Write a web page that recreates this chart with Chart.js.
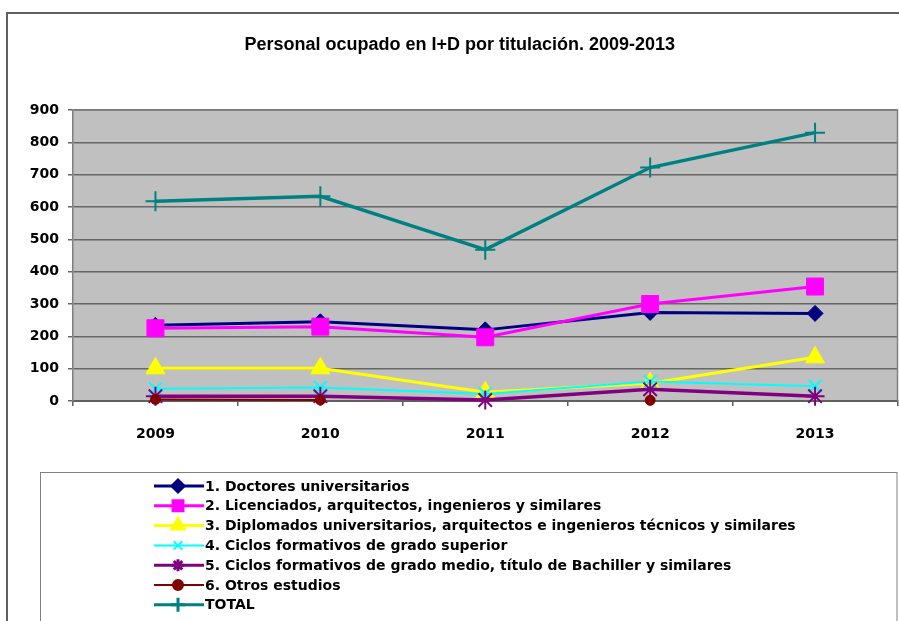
<!DOCTYPE html>
<html>
<head>
<meta charset="utf-8">
<script src="https://cdn.jsdelivr.net/npm/chart.js@4/dist/chart.umd.min.js"></script>
<style>
html,body{margin:0;padding:0;background:#fff;}
#wrap{width:899px;height:621px;position:relative;}
</style>
</head>
<body>
<div id="wrap"><canvas id="c" width="899" height="621"></canvas></div>
<script>
const years = ['2009', '2010', '2011', '2012', '2013'];
const doctores = [234, 245, 220, 274, 271];
const licenciados = [225, 230, 197, 300, 354];
const diplomados = [101, 101, 27, 55, 135];
const ciclosSuperior = [38, 42, 22, 60, 46];
const ciclosMedio = [15, 15, 3, 36, 15];
const otros = [5, 3, null, 2, null];
const total = [618, 633, 468, 722, 830];
const seriesNames = [
  '1. Doctores universitarios',
  '2. Licenciados, arquitectos, ingenieros y similares',
  '3. Diplomados universitarios, arquitectos e ingenieros técnicos y similares',
  '4. Ciclos formativos de grado superior',
  '5. Ciclos formativos de grado medio, título de Bachiller y similares',
  '6. Otros estudios',
  'TOTAL'
];
const titleText = 'Personal ocupado en I+D por titulación. 2009-2013';
const yTicks = [0, 100, 200, 300, 400, 500, 600, 700, 800, 900];

const FONT = "'DejaVu Sans', sans-serif";
const TFONT = "'Liberation Sans', Arial, sans-serif";

const styles = [
  {color:'#000080', lw:3, ps:'rectRot', r:8, bw:1, lr:6},
  {color:'#FF00FF', lw:3, ps:'rect', r:12, bw:1, lr:7},
  {color:'#FFFF00', lw:3, ps:'triangle', r:11, bw:1, lr:7},
  {color:'#00FFFF', lw:2, ps:'crossRot', r:9, bw:2, lr:6},
  {color:'#800080', lw:3.5, ps:'star', r:9.5, bw:2, lr:6},
  {color:'#800000', lw:2, ps:'circle', r:5, bw:1, lr:5},
  {color:'#008080', lw:3.5, ps:'cross', r:10, bw:2, lr:7}
];
const seriesData = [doctores, licenciados, diplomados, ciclosSuperior, ciclosMedio, otros, total];

const datasets = seriesData.map((d, i) => ({
  label: seriesNames[i],
  data: d,
  borderColor: styles[i].color,
  backgroundColor: styles[i].color,
  borderWidth: styles[i].lw,
  pointStyle: styles[i].ps,
  pointRadius: styles[i].r,
  pointHoverRadius: styles[i].r,
  pointBorderWidth: styles[i].bw,
  pointBackgroundColor: styles[i].color,
  pointBorderColor: styles[i].color,
  tension: 0,
  spanGaps: false,
  order: 10 - i,
  clip: false
}));

const framePlugin = {
  id: 'frame',
  beforeDraw(chart) {
    const ctx = chart.ctx;
    const a = chart.chartArea;
    ctx.save();
    ctx.fillStyle = '#fff';
    ctx.fillRect(0, 0, chart.width, chart.height);
    ctx.strokeStyle = '#606060';
    ctx.lineWidth = 2;
    ctx.strokeRect(7, 13, 905, 620);
    ctx.fillStyle = '#C0C0C0';
    ctx.fillRect(a.left, a.top, a.right - a.left, a.bottom - a.top);
    ctx.restore();
  },
  afterDraw(chart) {
    const ctx = chart.ctx;
    const a = chart.chartArea;
    ctx.save();
    ctx.strokeStyle = '#808080';
    ctx.lineWidth = 1.5;
    ctx.beginPath();
    ctx.moveTo(a.left, a.top); ctx.lineTo(a.right, a.top); ctx.lineTo(a.right, a.bottom);
    ctx.stroke();
    ctx.strokeStyle = '#808080';
    ctx.lineWidth = 1;
    ctx.strokeRect(40.5, 472.5, 856.5, 160);
    ctx.font = "bold 14px " + FONT;
    ctx.textBaseline = 'middle';
    ctx.textAlign = 'left';
    for (let i = 0; i < seriesNames.length; i++) {
      const y = 486 + i * 19.8;
      const s = styles[i];
      ctx.strokeStyle = s.color;
      ctx.lineWidth = Math.min(s.lw, 3);
      ctx.beginPath();
      ctx.moveTo(154, y); ctx.lineTo(204, y);
      ctx.stroke();
      ctx.fillStyle = s.color;
      ctx.strokeStyle = s.color;
      Chart.helpers.drawPoint(ctx, {pointStyle: s.ps, radius: s.lr, borderWidth: s.bw, rotation: 0}, 178, y);
      ctx.fillStyle = '#000';
      ctx.fillText(seriesNames[i], 205, y + 1);
    }
    ctx.restore();
  }
};

new Chart(document.getElementById('c'), {
  type: 'line',
  data: { labels: years, datasets },
  options: {
    responsive: false,
    devicePixelRatio: 1,
    animation: false,
    events: [],
    layout: { autoPadding: false, padding: { left: 22, right: 1.5, top: 0, bottom: 0 } },
    plugins: {
      legend: { display: false },
      tooltip: { enabled: false },
      title: {
        display: true,
        text: titleText,
        color: '#000',
        font: { family: TFONT, size: 18, weight: 'bold', lineHeight: 1.2 },
        padding: { top: 34, bottom: 54.4 }
      }
    },
    scales: {
      x: {
        offset: true,
        grid: { display: true, drawOnChartArea: false, drawTicks: true, tickLength: 5, color: '#606060', lineWidth: 1.5, offset: true },
        border: { display: true, color: '#606060', width: 2 },
        ticks: { color: '#000', font: { family: FONT, size: 14, weight: 'bold' }, padding: 20, maxRotation: 0 },
        afterFit(scale) { scale.height = 220; scale.paddingLeft = 0; scale.paddingRight = 0; }
      },
      y: {
        min: 0, max: 900,
        afterBuildTicks(scale) { scale.ticks = yTicks.map(v => ({ value: v })); },
        grid: { color: '#666666', lineWidth: 1.5, drawTicks: true, tickLength: 5 },
        border: { display: true, color: '#808080', width: 1.5 },
        ticks: { color: '#000', font: { family: FONT, size: 14, weight: 'bold' }, padding: 9 },
        afterFit(scale) { scale.width = 51; scale.paddingTop = 0; scale.paddingBottom = 0; }
      }
    }
  },
  plugins: [framePlugin]
});
</script>
</body>
</html>
